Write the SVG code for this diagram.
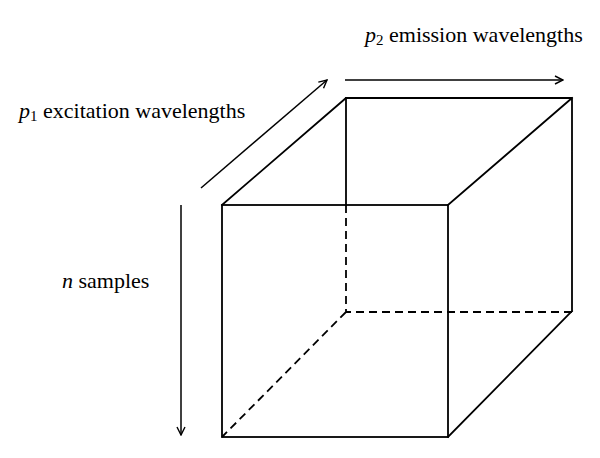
<svg xmlns="http://www.w3.org/2000/svg" width="600" height="458" viewBox="0 0 600 458">
<style>
.e{stroke:#000;stroke-width:1.8;fill:none;stroke-linecap:square}
.d{stroke:#000;stroke-width:1.8;fill:none;stroke-dasharray:8 5}
.a{stroke:#000;stroke-width:1.5;fill:none}
.t{font-family:"Liberation Serif",serif;font-size:22px;fill:#000}
.s{font-size:15px}
</style>
<defs>
<marker id="ah" viewBox="0 0 10 10" refX="9" refY="5" markerWidth="10" markerHeight="10" markerUnits="userSpaceOnUse" orient="auto">
<path d="M1,1 L9,5 L1,9" fill="none" stroke="#000" stroke-width="1.4"/>
</marker>
</defs>
<rect width="600" height="458" fill="#fff"/>
<g id="cube">
<path class="d" d="M346,205 L346,312 L572,312 M346,312 L222,437"/>
<path class="e" d="M346,98 L346,205"/>
<rect class="e" x="222" y="205" width="226" height="232"/>
<path class="e" d="M222,205 L346,98 L572,98 L572,311 M448,205 L572,98 M448,437 L572,311"/>
</g>
<g id="connectors">
<line class="a" x1="201" y1="188" x2="327" y2="80" marker-end="url(#ah)"/>
<line class="a" x1="345" y1="80" x2="563" y2="80" marker-end="url(#ah)"/>
<line class="a" x1="181" y1="205" x2="181" y2="435" marker-end="url(#ah)"/>
</g>
<g id="labels">
<text class="t" x="19" y="118"><tspan font-style="italic">p</tspan><tspan class="s" dy="3">1</tspan><tspan dy="-3"> excitation wavelengths</tspan></text>
<text class="t" x="365" y="42"><tspan font-style="italic">p</tspan><tspan class="s" dy="3">2</tspan><tspan dy="-3"> emission wavelengths</tspan></text>
<text class="t" x="62" y="288"><tspan font-style="italic">n</tspan> samples</text>
</g>
</svg>
